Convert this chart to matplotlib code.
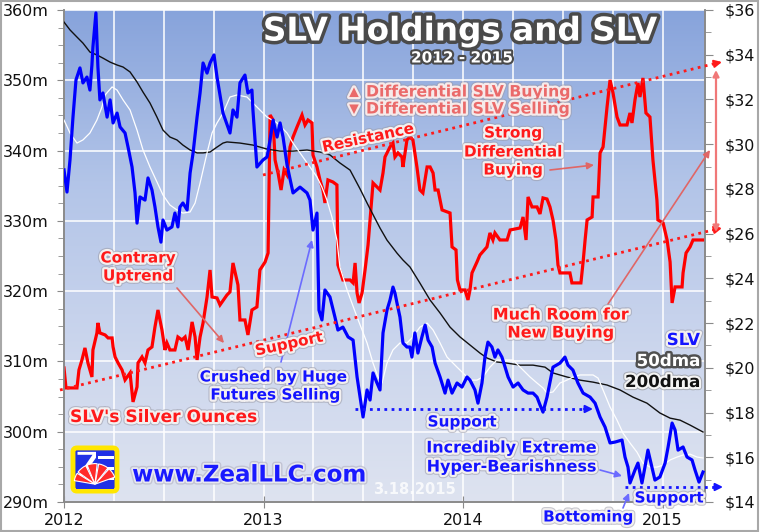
import numpy as np
import matplotlib
matplotlib.use("Agg")
import matplotlib.pyplot as plt
import matplotlib.patheffects as pe
from matplotlib.patches import FancyArrowPatch, Rectangle, FancyBboxPatch, Wedge, Polygon
from matplotlib.lines import Line2D
from matplotlib.ticker import MultipleLocator, FixedLocator, FuncFormatter

plt.rcParams['font.family'] = ['DejaVu Sans']

# ---------------- data (x in years since 2012-01-01) ----------------
year_labels = ['2012', '2013', '2014', '2015']

slv_t = [0.000,0.015,0.030,0.045,0.060,0.080,0.095,0.115,0.130,0.140,
         0.145,0.160,0.170,0.180,0.195,0.216,0.231,0.246,0.266,0.281,
         0.306,0.321,0.341,0.356,0.366,0.381,0.406,0.421,0.441,0.456,
         0.471,0.486,0.496,0.516,0.541,0.556,0.571,0.581,0.596,0.617,
         0.632,0.647,0.667,0.682,0.697,0.717,0.732,0.752,0.767,0.782,
         0.797,0.832,0.847,0.867,0.882,0.907,0.922,0.942,0.947,0.967,
         0.997,1.018,1.033,1.048,1.068,1.083,1.098,1.118,1.148,1.183,
         1.218,1.233,1.248,1.268,1.273,1.278,1.293,1.308,1.333,1.358,
         1.373,1.398,1.424,1.449,1.469,1.484,1.499,1.519,1.534,1.549,
         1.569,1.584,1.599,1.619,1.634,1.649,1.659,1.669,1.684,1.699,
         1.719,1.734,1.744,1.759,1.774,1.794,1.810,1.825,1.845,1.860,
         1.885,1.910,1.925,1.945,1.970,1.995,2.020,2.035,2.060,2.075,
         2.095,2.110,2.125,2.145,2.160,2.175,2.195,2.211,2.226,2.251,
         2.276,2.301,2.326,2.351,2.371,2.386,2.401,2.421,2.451,2.486,
         2.511,2.526,2.551,2.576,2.602,2.637,2.662,2.687,2.712,2.737,
         2.762,2.797,2.812,2.827,2.837,2.862,2.877,2.897,2.912,2.927,
         2.947,2.962,2.987,3.013,3.028,3.048,3.063,3.078,3.103,3.123,
         3.148,3.163,3.183,3.203]
slv_price = [28.85,27.86,29.29,31.21,32.87,33.41,32.74,33.00,32.42,33.54,
             34.35,35.87,33.45,31.98,32.29,31.21,31.98,30.95,31.39,30.77,
             30.50,29.87,28.98,27.82,26.47,27.64,27.50,28.49,27.95,27.19,
             26.30,25.62,26.61,26.16,26.30,26.92,26.30,27.19,27.37,27.06,
             28.71,29.61,31.21,32.29,33.63,33.18,33.63,33.99,33.00,32.20,
             31.39,30.50,31.53,31.21,32.74,33.09,32.29,32.42,31.53,28.98,
             29.29,29.43,30.19,31.08,30.32,30.95,30.32,29.07,27.82,28.08,
             27.82,27.50,26.16,26.92,24.82,22.58,22.14,23.48,23.17,22.27,
             21.69,21.82,21.38,21.24,19.59,18.69,17.80,19.01,18.56,19.77,
             19.32,19.01,21.56,22.58,23.03,23.61,23.34,22.90,22.27,21.11,
             20.93,20.93,20.48,21.56,20.66,21.38,21.91,21.24,20.93,20.21,
             19.59,18.87,19.45,18.87,19.32,19.14,19.59,19.45,19.01,18.42,
             19.32,20.48,21.15,20.93,20.48,20.80,20.48,20.03,19.59,19.14,
             19.32,19.01,18.87,18.87,18.69,18.34,18.02,18.69,20.03,20.21,
             20.48,20.12,19.90,19.32,18.87,18.69,18.42,17.80,17.35,16.64,
             16.68,16.77,16.01,15.56,14.85,15.43,15.74,14.85,15.56,16.32,
             15.56,14.98,15.12,15.74,16.46,17.53,17.22,16.32,16.46,16.01,
             15.88,15.43,14.89,15.34]

hold_t = [0.000,0.010,0.065,0.075,0.090,0.105,0.120,0.140,0.145,0.165,
          0.170,0.180,0.206,0.221,0.241,0.246,0.256,0.271,0.291,0.306,
          0.331,0.346,0.366,0.371,0.391,0.406,0.421,0.441,0.456,0.471,
          0.481,0.491,0.506,0.516,0.531,0.556,0.571,0.591,0.607,0.622,
          0.642,0.657,0.667,0.682,0.697,0.717,0.732,0.742,0.767,0.782,
          0.817,0.832,0.847,0.872,0.882,0.907,0.922,0.942,0.967,0.982,
          1.008,1.023,1.033,1.048,1.058,1.073,1.088,1.103,1.118,1.133,
          1.148,1.168,1.193,1.208,1.223,1.243,1.248,1.268,1.283,1.298,
          1.308,1.323,1.348,1.368,1.373,1.398,1.434,1.449,1.459,1.469,
          1.479,1.494,1.509,1.524,1.549,1.569,1.584,1.599,1.609,1.634,
          1.649,1.659,1.674,1.694,1.699,1.719,1.734,1.749,1.769,1.784,
          1.799,1.820,1.835,1.850,1.860,1.875,1.895,1.935,1.945,1.965,
          1.972,1.985,2.010,2.025,2.035,2.045,2.070,2.085,2.120,2.135,
          2.150,2.160,2.185,2.221,2.236,2.286,2.301,2.316,2.326,2.346,
          2.371,2.386,2.401,2.421,2.436,2.451,2.466,2.476,2.486,2.536,
          2.546,2.591,2.602,2.612,2.622,2.647,2.652,2.677,2.687,2.702,
          2.722,2.737,2.752,2.772,2.787,2.822,2.837,2.847,2.862,2.877,
          2.887,2.902,2.917,2.937,2.952,2.972,2.977,3.003,3.023,3.038,
          3.048,3.063,3.098,3.103,3.118,3.138,3.153,3.203]
holdings_moz = [309.07,306.23,306.23,308.79,310.21,311.92,309.79,307.79,311.63,314.05,
                315.48,314.05,313.77,313.34,313.34,312.06,310.64,309.79,308.79,307.37,
                308.36,304.24,306.37,309.79,310.64,309.79,311.63,312.06,314.91,317.32,
                315.90,314.48,311.63,312.63,311.63,311.63,313.48,313.06,313.48,311.63,
                315.62,313.48,310.21,313.48,315.48,319.17,323.01,319.17,319.03,318.04,
                319.46,319.89,324.01,320.88,315.90,315.90,313.77,317.32,317.75,323.01,
                324.15,325.43,345.06,344.35,338.66,336.81,334.39,337.24,336.53,340.51,
                341.93,343.36,345.06,343.64,344.35,343.93,339.37,337.67,335.82,334.39,
                332.55,335.82,335.53,335.11,323.73,321.59,321.59,321.17,324.01,319.74,
                318.32,319.74,323.01,326.57,335.39,334.82,334.39,336.81,339.09,340.51,
                341.08,339.09,339.66,339.09,337.67,341.51,341.93,341.51,337.67,334.39,
                333.97,337.67,337.67,336.81,334.39,334.39,331.55,331.12,326.29,325.86,
                321.59,320.17,320.17,318.75,320.17,322.59,324.15,325.15,326.29,328.28,
                327.28,328.28,327.28,327.28,328.70,328.99,330.55,327.28,333.40,331.98,
                331.98,330.98,333.26,333.11,331.98,330.13,327.28,323.73,322.59,322.59,
                321.17,321.17,324.15,327.28,330.13,330.55,333.40,333.40,339.66,340.51,
                346.20,350.04,348.19,344.78,343.64,343.64,345.35,343.93,347.20,349.62,
                347.62,350.33,345.35,344.78,338.66,332.97,330.13,329.70,327.28,324.15,
                318.32,320.60,320.60,322.59,325.43,326.29,327.28,327.28]

ma50_t = [0.000,0.030,0.065,0.095,0.130,0.165,0.190,0.206,0.241,0.266,
          0.296,0.331,0.366,0.396,0.431,0.466,0.496,0.531,0.566,0.596,
          0.632,0.657,0.682,0.717,0.742,0.767,0.797,0.832,0.867,0.917,
          0.947,0.982,1.018,1.068,1.118,1.148,1.183,1.233,1.268,1.293,
          1.318,1.343,1.368,1.383,1.419,1.469,1.519,1.549,1.574,1.594,
          1.619,1.649,1.684,1.719,1.749,1.784,1.820,1.850,1.885,1.920,
          1.970,2.000,2.035,2.070,2.100,2.135,2.170,2.201,2.251,2.301,
          2.336,2.371,2.401,2.421,2.451,2.486,2.521,2.551,2.586,2.652,
          2.677,2.702,2.737,2.772,2.802,2.837,2.872,2.902,2.937,2.972,
          3.003,3.038,3.073,3.103,3.138,3.173,3.203]
ma50 = [31.08,30.50,30.05,30.19,30.50,31.08,31.66,32.20,32.56,32.42,
        31.98,31.53,30.63,29.74,28.98,28.31,27.73,27.28,27.06,26.92,
        26.97,27.37,28.26,29.61,30.50,30.95,31.39,32.11,32.20,32.11,
        31.84,31.53,31.21,30.95,30.50,30.05,29.61,28.98,28.53,28.08,
        27.50,26.74,25.71,24.51,23.48,22.27,21.11,20.21,19.59,19.32,
        20.21,20.80,21.11,21.11,21.38,21.82,22.00,21.69,21.11,20.48,
        20.03,19.77,19.45,19.45,19.59,20.03,20.35,20.35,20.35,19.90,
        19.59,19.32,19.10,18.87,18.92,19.32,19.45,19.59,19.68,19.68,
        19.54,19.01,18.25,17.66,17.08,16.64,16.23,15.74,15.56,15.56,
        15.65,15.88,16.01,16.10,16.14,16.01,15.97]

ma200_t = [0.000,0.030,0.065,0.095,0.130,0.165,0.195,0.231,0.266,0.296,
           0.331,0.366,0.396,0.431,0.466,0.496,0.531,0.566,0.596,0.632,
           0.667,0.697,0.732,0.767,0.797,0.817,0.882,0.947,1.018,1.083,
           1.148,1.218,1.283,1.333,1.383,1.434,1.484,1.519,1.549,1.584,
           1.619,1.669,1.699,1.734,1.784,1.835,1.885,1.935,1.985,2.035,
           2.085,2.120,2.170,2.221,2.286,2.351,2.411,2.451,2.521,2.586,
           2.652,2.722,2.787,2.852,2.922,2.987,3.038,3.088,3.138,3.203]
ma200 = [35.46,35.11,34.79,34.52,34.12,33.99,33.85,33.67,33.54,33.45,
         33.23,32.78,32.33,31.84,31.21,30.63,30.32,30.19,29.96,29.74,
         29.61,29.61,29.65,29.87,30.05,30.10,30.05,29.96,29.78,29.69,
         29.69,29.74,29.65,29.52,29.16,28.84,28.00,27.37,26.85,26.25,
         25.71,25.13,24.82,24.51,23.79,23.03,22.45,21.82,21.38,21.02,
         20.66,20.44,20.26,20.21,20.12,20.12,20.03,19.77,19.59,19.45,
         19.36,19.23,19.01,18.69,18.42,17.98,17.75,17.66,17.44,17.13]

# ---------------- figure ----------------
W, H = 760, 532
fig = plt.figure(figsize=(W / 100, H / 100), dpi=100)
fig.patch.set_facecolor('white')

def P(x, y):
    return (x / W, 1 - y / H)

pos = [64 / W, 30 / H, 641 / W, 492 / H]

# gradient background
bg = fig.add_axes(pos, zorder=0)
stops = np.array([[0.00, 0.53, 0.64, 0.86],
                  [0.35, 0.70, 0.77, 0.91],
                  [0.70, 0.80, 0.84, 0.93],
                  [1.00, 0.87, 0.89, 0.94]])
yy = np.linspace(0, 1, 256)
grad = np.stack([np.interp(yy, stops[:, 0], stops[:, i]) for i in (1, 2, 3)], axis=-1)
grad = grad[:, None, :]
bg.imshow(grad, aspect='auto', extent=[0, 1, 0, 1], origin='upper')
bg.axis('off')

ax = fig.add_axes(pos, zorder=1)
ax.set_facecolor('none')
ax2 = ax.twinx()

ax.plot(hold_t, holdings_moz, color='#ff0000', lw=2.3, solid_joinstyle='miter', zorder=3)
ax2.plot(ma200_t, ma200, color='#111111', lw=1.0, zorder=3)
ax2.plot(ma50_t, ma50, color='white', lw=0.9, zorder=4)
ax2.plot(slv_t, slv_price, color='#0000ff', lw=2.3, zorder=5)

ax.set_xlim(0, 3.213)
ax.set_ylim(290, 360)
ax2.set_ylim(14, 36)

ax.set_xticks([0, 1, 2, 3])
ax.set_xticklabels(year_labels)
ax.xaxis.set_minor_locator(FixedLocator([q / 4 for q in range(1, 13) if q % 4]))
ax.yaxis.set_major_locator(MultipleLocator(10))
ax.yaxis.set_minor_locator(MultipleLocator(2.5))
ax.yaxis.set_major_formatter(FuncFormatter(lambda v, p: f"{int(round(v))}m"))
ax2.yaxis.set_major_locator(MultipleLocator(2))
ax2.yaxis.set_minor_locator(MultipleLocator(1))
ax2.yaxis.set_major_formatter(FuncFormatter(lambda v, p: f"${int(round(v))}"))

ax.set_axisbelow(True)
ax.grid(True, which='both', axis='x', color='white', lw=1.3, alpha=0.85)
ax.grid(True, which='major', axis='y', color='white', lw=1.3, alpha=0.85)

gray = '#8a8a8a'
ax.tick_params(axis='x', which='major', direction='inout', length=8, color=gray,
               labelsize=11.5, pad=4, labelcolor='#111111')
ax.tick_params(axis='x', which='minor', length=0)
ax.tick_params(axis='y', which='major', length=5, color=gray, labelsize=11.5, pad=6,
               labelcolor='#111111')
ax.tick_params(axis='y', which='minor', length=4, color=gray)
ax2.tick_params(axis='y', which='major', length=6, color=gray, labelsize=11.5, pad=8,
                labelcolor='#111111')
ax2.tick_params(axis='y', which='minor', length=4, color=gray)
for a in (ax, ax2):
    for s in a.spines.values():
        s.set_color(gray)
        s.set_linewidth(1.2)
    a.spines['top'].set_visible(False)

# ---------------- decorations ----------------
def halo(outer='#9a9aa6', inner='#f3f0f0', w=3.2):
    return [pe.Stroke(linewidth=w + 1.6, foreground=outer, alpha=0.55),
            pe.Stroke(linewidth=w, foreground=inner), pe.Normal()]

def T(x, y, s, color, size=11, effects=None, ha='center', rot=0, **kw):
    fig.text(*P(x, y), s, color=color, fontsize=size, fontweight='bold',
             ha=ha, va='center', rotation=rot, rotation_mode='anchor',
             path_effects=effects if effects is not None else halo(), zorder=10, **kw)

def arrow(p0, p1, color, lw=1.2, style='-|>', ms=10, ls='-'):
    a = FancyArrowPatch(P(*p0), P(*p1), transform=fig.transFigure, arrowstyle=style,
                        mutation_scale=ms, color=color, lw=lw, linestyle=ls, zorder=9,
                        shrinkA=0, shrinkB=0)
    fig.add_artist(a)

def dotted(p0, p1, color, head_to):
    fig.add_artist(Line2D([P(*p0)[0], P(*p1)[0]], [P(*p0)[1], P(*p1)[1]],
                          transform=fig.transFigure, color=color, lw=2.0,
                          linestyle=(0, (1, 1.6)), zorder=8))
    arrow(p1, head_to, color, lw=1.5, ms=11)

red = '#ff1a1a'
blue = '#1414ff'

# trend lines
dotted((60, 390), (713, 230), red, (722, 228))
dotted((263, 175), (713, 64), red, (722, 62))
dotted((355, 409), (584, 409), blue, (593, 409))
dotted((625, 487), (714, 487), blue, (723, 487))
arrow((716, 70), (716, 232), '#f07878', lw=1.6, style='<|-|>', ms=9)

# title
title_fx = [pe.withSimplePatchShadow(offset=(1.5, -1.5), shadow_rgbFace='#505060', alpha=0.6),
            pe.Stroke(linewidth=5, foreground='#4a4a4a'), pe.Normal()]
T(460, 31, 'SLV Holdings and SLV', 'white', size=23.5, effects=title_fx)
T(462, 58, '2012 - 2015', 'white', size=11,
  effects=[pe.Stroke(linewidth=3, foreground='#4a4a4a'), pe.Normal()])

pink = '#ea6a6a'
T(354, 92, '▲', pink, size=9, effects=halo(inner='#f6eaea'))
T(354, 109, '▼', pink, size=9, effects=halo(inner='#f6eaea'))
T(366, 92, 'Differential SLV Buying', pink, size=11.3, ha='left', effects=halo(inner='#f6eaea'))
T(366, 109, 'Differential SLV Selling', pink, size=11.3, ha='left', effects=halo(inner='#f6eaea'))

T(368, 138, 'Resistance', red, rot=12)
T(513, 133, 'Strong', red)
T(513, 152, 'Differential', red)
T(513, 170, 'Buying', red)
arrow((550, 170), (594, 165), '#e06666')

T(138, 258, 'Contrary', red)
T(138, 276, 'Uptrend', red)
arrow((177, 288), (224, 343), '#e06666')

T(289, 344, 'Support', red, rot=12)
T(273, 377, 'Crushed by Huge', blue)
T(275, 395, 'Futures Selling', blue)
arrow((281, 362), (312, 240), '#6b6bff')

T(164, 417, "SLV's Silver Ounces", red, size=12.3)
T(462, 422, 'Support', blue)

T(561, 315, 'Much Room for', red, size=11.5)
T(561, 333, 'New Buying', red, size=11.5)
arrow((608, 304), (710, 150), '#e06666')

T(700, 340, 'SLV', blue, size=12, ha='right')
T(700, 361, '50dma', 'white', size=12, ha='right',
  effects=[pe.Stroke(linewidth=3.5, foreground='#505050'), pe.Normal()])
T(700, 382, '200dma', '#111111', size=12, ha='right',
  effects=[pe.Stroke(linewidth=4.5, foreground='#909090', alpha=0.6),
           pe.Stroke(linewidth=3, foreground='#f4f4f4'), pe.Normal()])

T(512, 448, 'Incredibly Extreme', blue, size=11.5)
T(512, 467, 'Hyper-Bearishness', blue, size=11.5)
arrow((600, 470), (622, 476), '#6b6bff')
T(669, 498, 'Support', blue)
T(588, 517, 'Bottoming', blue)
arrow((623, 508), (629, 493), '#6b6bff')

fig.text(*P(414, 490), '3.18.2015', color='white', alpha=0.8, fontsize=10.5,
         fontweight='bold', ha='center', va='center', zorder=10)

T(249, 475, 'www.ZealLLC.com', '#1a1aff', size=16.5,
  effects=[pe.Stroke(linewidth=4.5, foreground='#b8b8c8', alpha=0.7),
           pe.Stroke(linewidth=2.5, foreground='#e8e8f0'), pe.Normal()])

# logo
lg = fig.add_axes([70 / W, (H - 494) / H, 50 / W, 49 / H], zorder=6)
lg.set_xlim(0, 1); lg.set_ylim(0, 1); lg.axis('off')
lg.add_patch(FancyBboxPatch((0.06, 0.06), 0.88, 0.88,
                            boxstyle='round,pad=0,rounding_size=0.08',
                            fc='#2030e6', ec='#ffe600', lw=3.5))
for yb in (0.72, 0.5, 0.28):
    lg.add_patch(Rectangle((0.55, yb), 0.33, 0.06, fc='white', ec='none'))
lg.add_patch(Polygon([[0.15, 0.80], [0.45, 0.80], [0.15, 0.35], [0.25, 0.35], [0.52, 0.74], [0.52, 0.86], [0.15, 0.86]],
                     closed=True, fc='white', ec='none'))
for k, (a0, a1) in enumerate([(20, 48), (52, 80), (84, 112), (116, 144), (148, 170)]):
    lg.add_patch(Wedge((0.5, 0.2), 0.42, a0, a1, fc='#ff2a2a', ec='white', lw=0.8))
lg.add_patch(Rectangle((0.12, 0.1), 0.76, 0.08, fc='#2030e6', ec='none'))

# outer frame
fig.add_artist(Rectangle((0.001, 0.001), 0.997, 0.997, transform=fig.transFigure,
                         fill=False, ec='#a8a8a8', lw=1.5, zorder=20))

fig.savefig('out.png', dpi=100, facecolor='white')
